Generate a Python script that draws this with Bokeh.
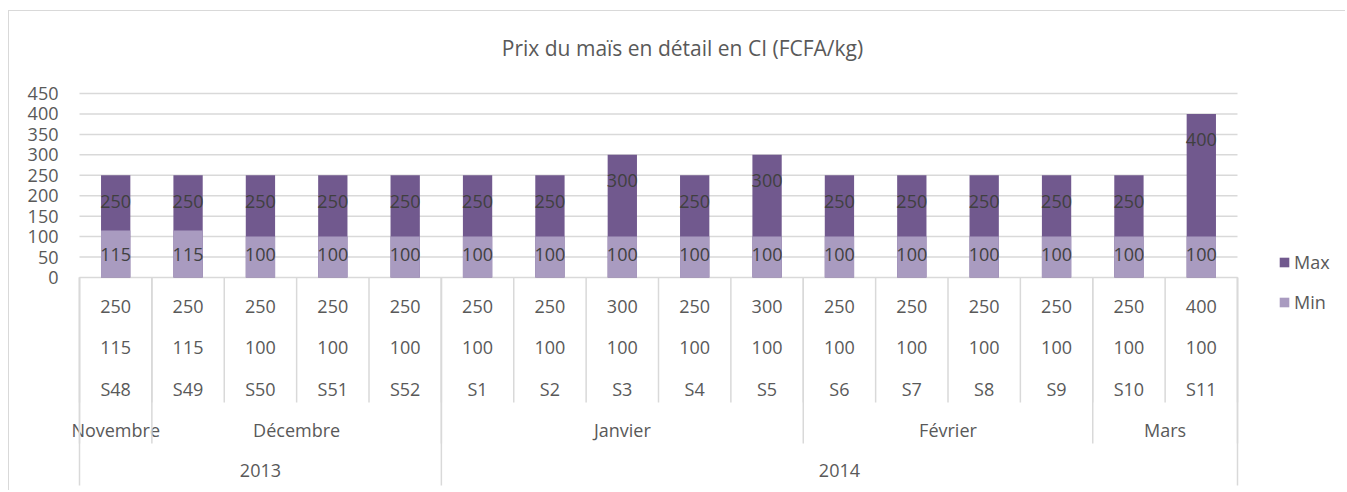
from bokeh.plotting import figure
from bokeh.models import Range1d, FixedTicker, Legend, LegendItem, ColumnDataSource
from bokeh.embed import file_html
from bokeh.resources import INLINE
from bokeh.core.properties import value

# ---------------- data ----------------
weeks = ["S48", "S49", "S50", "S51", "S52", "S1", "S2", "S3", "S4", "S5",
         "S6", "S7", "S8", "S9", "S10", "S11"]
max_vals = [250, 250, 250, 250, 250, 250, 250, 300, 250, 300, 250, 250, 250, 250, 250, 400]
min_vals = [115, 115, 100, 100, 100, 100, 100, 100, 100, 100, 100, 100, 100, 100, 100, 100]
months = ["Novembre", "Décembre", "Janvier", "Février", "Mars"]
month_spans = [1, 4, 5, 4, 2]
years = ["2013", "2014"]
year_spans = [5, 11]
y_ticks = [0, 50, 100, 150, 200, 250, 300, 350, 400, 450]
title_text = "Prix du maïs en détail en CI (FCFA/kg)"

# ---------------- style / layout ----------------
FONT = "Open Sans"
C_MAX = "#71598E"
C_MIN = "#A99BC0"
C_TXT = "#595959"
C_LBL = "#404040"
C_LINE = "#d9d9d9"

OX, OY = 9, 11                  # canvas origin on the page (after css margin + border)
W, H = 1337, 480
FL = 62                         # frame left (page px)
FR = OX + W                     # frame right
FT = OY                         # frame top
FB = OY + H                     # frame bottom
PL = 79                         # plot area left (page px)
PC = 72.375                     # px per category
Z, T450 = 277, 93               # page y of value 0 and value 450
Y_TOP = 450
upp = Y_TOP / (Z - T450)        # value units per px

n = len(weeks)
xc = [i + 0.5 for i in range(n)]

p = figure(width=W, height=H, output_backend="svg", toolbar_location=None,
           x_range=Range1d(-(PL - FL) / PC, (FR - PL) / PC),
           y_range=Range1d(-(FB - Z) * upp, (Z - FT) * upp),
           x_axis_location=None,
           min_border_left=FL - OX, min_border_right=0, min_border_top=0, min_border_bottom=0,
           outline_line_color=None, background_fill_color="white", border_fill_color="white")
p.styles = {"margin-left": "8px", "margin-top": "10px",
            "border-left": "1px solid #d9d9d9", "border-top": "1px solid #d9d9d9"}

# page-pixel coordinate system for text rows / table lines
p.extra_y_ranges = {"px": Range1d(start=FB, end=FT)}

# y axis
ax = p.yaxis[0]
ax.ticker = FixedTicker(ticks=y_ticks)
ax.axis_line_color = None
ax.major_tick_line_color = None
ax.minor_tick_line_color = None
ax.major_tick_out = 0
ax.major_tick_in = 0
ax.major_label_standoff = 4
ax.major_label_text_font = FONT
ax.major_label_text_font_size = "18px"
ax.major_label_text_color = C_TXT

p.xgrid.visible = False
p.ygrid.visible = False

# horizontal gridlines over the plot area only
p.segment(x0=[0] * len(y_ticks), x1=[n] * len(y_ticks), y0=y_ticks, y1=y_ticks,
          line_color=C_LINE, line_width=1.5)

src = ColumnDataSource(dict(
    x=xc, mx=max_vals, mn=min_vals,
    mx_s=[str(v) for v in max_vals], mn_s=[str(v) for v in min_vals],
    wk=weeks, zero=[0] * n,
))

r_max = p.vbar(x="x", top="mx", bottom=0, width=0.405, source=src,
               fill_color=C_MAX, line_color=None)
r_min = p.vbar(x="x", top="mn", bottom=0, width=0.405, source=src,
               fill_color=C_MIN, line_color=None)

lbl_kw = dict(text_font=value(FONT), text_font_size="18px", text_align="center",
              text_baseline="middle")
p.text(x="x", y="mx", text="mx_s", source=src, y_offset=26, text_color=C_LBL, **lbl_kw)
p.text(x="x", y="zero", text="mn_s", source=src, y_offset=-23, text_color=C_LBL, **lbl_kw)

# title
p.text(x=[n / 2], y=[47], text=[title_text], y_range_name="px", x_offset=24,
       text_font=value(FONT), text_font_size="21px", text_align="center",
       text_baseline="middle", text_color=C_TXT)

# data table rows
ROW_MAX, ROW_MIN, ROW_WK, ROW_MON, ROW_YR = 306, 347, 388, 429, 470
p.text(x="x", y=ROW_MAX, text="mx_s", source=src, y_range_name="px", text_color=C_TXT, **lbl_kw)
p.text(x="x", y=ROW_MIN, text="mn_s", source=src, y_range_name="px", text_color=C_TXT, **lbl_kw)
p.text(x="x", y=ROW_WK, text="wk", source=src, y_range_name="px", text_color=C_TXT, **lbl_kw)

def spans_to_bounds(spans):
    b = [0]
    for s in spans:
        b.append(b[-1] + s)
    return b

mb = spans_to_bounds(month_spans)
yb = spans_to_bounds(year_spans)
p.text(x=[(mb[i] + mb[i + 1]) / 2 for i in range(len(months))], y=[ROW_MON] * len(months),
       text=months, y_range_name="px", text_color=C_TXT, **lbl_kw)
p.text(x=[(yb[i] + yb[i + 1]) / 2 for i in range(len(years))], y=[ROW_YR] * len(years),
       text=years, y_range_name="px", text_color=C_TXT, **lbl_kw)

# table separators
L_WK, L_MON, L_YR = 402, 443, 485
wb = list(range(n + 1))
p.segment(x0=wb, x1=wb, y0=[Z] * len(wb), y1=[L_WK] * len(wb), y_range_name="px",
          line_color=C_LINE, line_width=1.5)
p.segment(x0=mb, x1=mb, y0=[Z] * len(mb), y1=[L_MON] * len(mb), y_range_name="px",
          line_color=C_LINE, line_width=1.5)
p.segment(x0=yb, x1=yb, y0=[Z] * len(yb), y1=[L_YR] * len(yb), y_range_name="px",
          line_color=C_LINE, line_width=1.5)

legend = Legend(items=[LegendItem(label="Max", renderers=[r_max]),
                       LegendItem(label="Min", renderers=[r_min])],
                location=(1278 - FL, FB - 314), orientation="vertical",
                glyph_width=12, glyph_height=12, label_standoff=4, spacing=16,
                padding=0, margin=0, border_line_color=None, background_fill_alpha=0,
                label_text_font=FONT, label_text_font_size="18px", label_text_color=C_TXT)
p.add_layout(legend)

open("out.html", "w").write(file_html(p, INLINE))
